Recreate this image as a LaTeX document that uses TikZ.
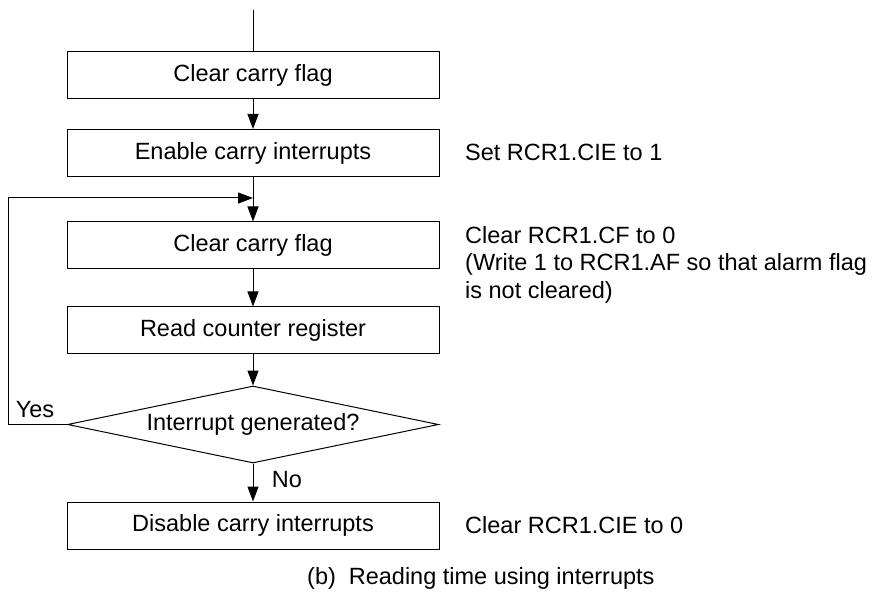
\documentclass[tikz,border=0pt]{standalone}
\usepackage{fontspec}
\setmainfont{Liberation Sans}
\usetikzlibrary{shapes.geometric,arrows.meta}
\begin{document}
\begin{tikzpicture}[x=1pt,y=-1pt,
  every node/.style={font=\fontsize{23.5}{27.5}\selectfont},
  procbox/.style={draw,line width=1pt,minimum width=372pt,minimum height=47pt,inner sep=0pt},
  decbox/.style={draw,line width=1pt,diamond,aspect=4.8,minimum width=371pt,minimum height=77pt,inner sep=0pt},
  flow/.style={line width=1pt,-{Triangle[length=15pt,width=11pt]}},
  plain/.style={line width=1pt},
  note/.style={anchor=west,align=left,inner sep=0pt}]
\useasboundingbox (0,0) rectangle (879,604);
\coordinate (top) at (253,10);
\node[procbox] (b1) at (253,75.5) {Clear carry flag};
\node[procbox] (b2) at (253,153) {Enable carry interrupts};
\node[procbox] (b3) at (253,245.5) {Clear carry flag};
\node[procbox] (b4) at (253,330.5) {Read counter register};
\node[decbox] (d) at (253,424.5) {Interrupt generated?};
\node[procbox] (b5) at (253,525.5) {Disable carry interrupts};
\coordinate (j) at (253,198);
\coordinate (lb) at (8,424.5);
\coordinate (lt) at (8,198);
\draw[plain] (top) -- (b1.north);
\draw[flow] (b1) -- (b2);
\draw[flow] (b2.south) -- (b3.north);
\draw[flow] (b3) -- (b4);
\draw[flow] (b4.south) -- (d.north);
\draw[flow] (d.south) -- (b5.north);
\draw[flow] (d.west) -- (lb) -- (lt) -- (j);
\node (yes) at (35,410) {Yes};
\node (no) at (287,480) {No};
\node[note] (n1) at (465,152) {Set RCR1.CIE to 1};
\node[note,anchor=north west] (n2) at (465,226) {Clear RCR1.CF to 0\\(Write 1 to RCR1.AF so that alarm flag\\is not cleared)};
\node[note] (n3) at (465,525) {Clear RCR1.CIE to 0};
\node[note] (cap) at (307,578) {(b)\hspace{0.55em}Reading time using interrupts};
\end{tikzpicture}
\end{document}
